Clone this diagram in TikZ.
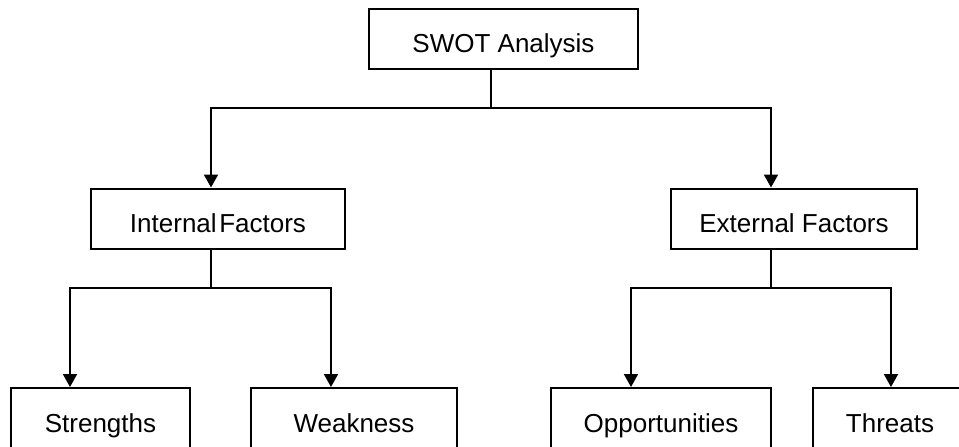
\documentclass[tikz,border=0pt]{standalone}
\usepackage{fontspec}
\setmainfont{Liberation Sans}
\usetikzlibrary{arrows.meta}

\begin{document}
\begin{tikzpicture}[x=1pt,y=-1pt,
  box/.style={draw=black,line width=2pt,rectangle,inner sep=0pt,
    minimum height=60pt,text height=27pt,text depth=0pt,
    font=\fontsize{26}{30}\selectfont},
  leafbox/.style={box,minimum height=70pt,text height=18pt},
  link/.style={draw=black,line width=2pt},
  arr/.style={link,-{Triangle[length=13pt,width=14pt]}}]

\useasboundingbox (0,0) rectangle (959,447);
\clip (0,0) rectangle (959,447);

% tree nodes
\node[box,minimum width=269pt] (swot) at (503.5,39) {SWOT Analysis};
\node[box,minimum width=254pt] (internal) at (218,218.5) {Internal\hspace{0.1em}Factors};
\node[box,minimum width=246pt] (external) at (794,218.5) {External Factors};
\node[leafbox,minimum width=179pt] (strengths) at (100.5,423) {Strengths};
\node[leafbox,minimum width=206pt] (weakness) at (354,423) {Weakness};
\node[leafbox,minimum width=220pt] (opp) at (661,423) {Opportunities};
\node[leafbox,minimum width=154pt] (threats) at (890,423) {Threats};

% branch points and drop lines
\coordinate (j0) at (491,108);
\coordinate (j1) at (211,288);
\coordinate (j2) at (771,288);
\coordinate (xs) at (70,0);
\coordinate (xw) at (331,0);
\coordinate (xo) at (631,0);
\coordinate (xt) at (891,0);

% first level
\draw[link] (swot.south -| j0) -- (j0);
\draw[arr] (j0) -| (j1 |- internal.north);
\draw[arr] (j0) -| (j2 |- external.north);

% second level, internal side
\draw[link] (internal.south -| j1) -- (j1);
\draw[arr] (j1) -| (xs |- strengths.north);
\draw[arr] (j1) -| (xw |- weakness.north);

% second level, external side
\draw[link] (external.south -| j2) -- (j2);
\draw[arr] (j2) -| (xo |- opp.north);
\draw[arr] (j2) -| (xt |- threats.north);
\end{tikzpicture}
\end{document}
